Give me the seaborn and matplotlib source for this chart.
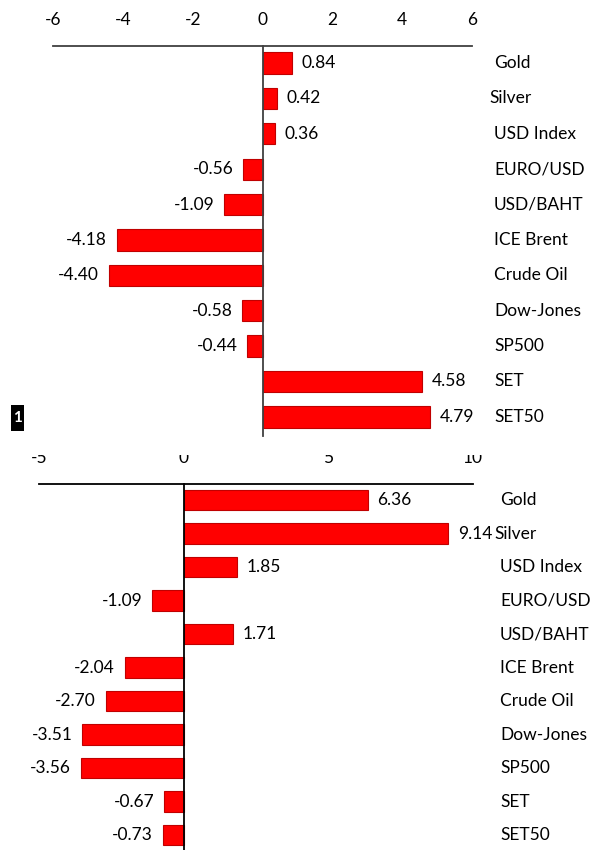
import numpy as np
import pandas as pd
import seaborn as sns
import matplotlib.pyplot as plt
from matplotlib.patches import Rectangle

categories = ["Gold", "Silver", "USD Index", "EURO/USD", "USD/BAHT", "ICE Brent",
              "Crude Oil", "Dow-Jones", "SP500", "SET", "SET50"]
top_values = [0.84, 0.42, 0.36, -0.56, -1.09, -4.18, -4.40, -0.58, -0.44, 4.58, 4.79]
bottom_values = [6.36, 9.14, 1.85, -1.09, 1.71, -2.04, -2.70, -3.51, -3.56, -0.67, -0.73]
top_ticks = [-6, -4, -2, 0, 2, 4, 6]
bottom_ticks = [-5, 0, 5, 10]

sns.set_theme(style="white")
plt.rcParams['font.family'] = ['Lato', 'DejaVu Sans']

W, H = 607, 850
fig = plt.figure(figsize=(6.07, 8.5), dpi=100)
fig.patch.set_facecolor('white')


def px_axes(left, top, right, bottom):
    return fig.add_axes([left / W, 1 - bottom / H, (right - left) / W, (bottom - top) / H])


FS = 12.5


def draw_panel(ax, values, ticks, xlim, ylim, label_x, silver_x, spine_color, pad):
    df = pd.DataFrame({"cat": categories, "val": values})
    sns.barplot(data=df, x="val", y="cat", orient="h", color="#FF0000",
                saturation=1, edgecolor="#C00000", linewidth=0.8, width=0.6, ax=ax)
    ax.set_xlim(*xlim)
    ax.set_ylim(*ylim)
    ax.set_xlabel("")
    ax.set_ylabel("")
    ax.set_yticks([])
    ax.xaxis.set_ticks_position("top")
    ax.xaxis.set_label_position("top")
    ax.set_xticks(ticks)
    ax.set_xticklabels([str(t) for t in ticks])
    ax.tick_params(axis="x", length=0, pad=pad, labelsize=FS, colors="black")
    for s in ["right", "bottom"]:
        ax.spines[s].set_visible(False)
    ax.spines["left"].set_position(("data", 0))
    ax.spines["left"].set_color(spine_color)
    ax.spines["left"].set_linewidth(1.3)
    ax.spines["top"].set_color(spine_color)
    ax.spines["top"].set_linewidth(1.3)
    ax.set_facecolor("none")
    for i, v in enumerate(values):
        if v >= 0:
            ax.annotate(f"{v:.2f}", xy=(v, i), xytext=(7, 0), textcoords="offset points",
                        ha="left", va="center", fontsize=FS, color="black")
        else:
            ax.annotate(f"{v:.2f}", xy=(v, i), xytext=(-7, 0), textcoords="offset points",
                        ha="right", va="center", fontsize=FS, color="black")
    for i, c in enumerate(categories):
        x = silver_x if c == "Silver" else label_x
        ax.text(x, i, c, transform=ax.get_yaxis_transform(), ha="left", va="center",
                fontsize=FS, color="black", clip_on=False)


ax1 = px_axes(53, 46, 472, 436)
draw_panel(ax1, top_values, top_ticks, (-6, 6), (10.54, -0.48),
           (494 - 53) / 419, (489 - 53) / 419, "#404040", 13)

ax2 = px_axes(39, 484, 473, 850)
draw_panel(ax2, bottom_values, bottom_ticks, (-5, 10), (10.447, -0.478),
           (500 - 39) / 434, (494 - 39) / 434, "#000000", 13)

# clipped tick labels of lower panel (white band)
fig.add_artist(Rectangle((0, 1 - 455 / H), 1, (455 - 438) / H, transform=fig.transFigure,
                         facecolor="white", edgecolor="none", zorder=10))

# small black marker box at left
fig.add_artist(Rectangle((11 / W, 1 - 431 / H), 13 / W, 26 / H, transform=fig.transFigure,
                         facecolor="black", edgecolor="none", zorder=11))
fig.text(17.5 / W, 1 - 418 / H, "1", color="white", ha="center", va="center",
         fontsize=11, fontweight="bold", zorder=12)

fig.savefig("out.png", dpi=100, facecolor="white")
